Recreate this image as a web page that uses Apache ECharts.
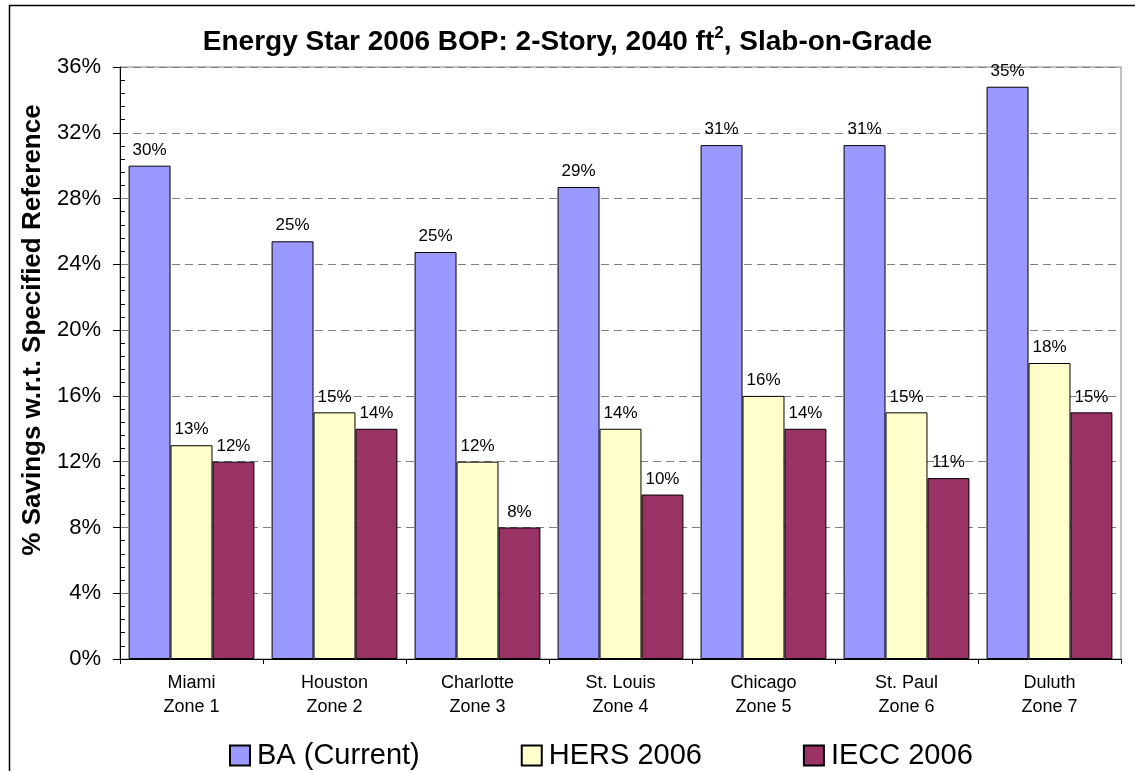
<!DOCTYPE html>
<html>
<head>
<meta charset="utf-8">
<script src="https://cdn.jsdelivr.net/npm/echarts@6/dist/echarts.min.js"></script>
<style>
  html, body { margin: 0; padding: 0; background: #fff; }
  #chart { width: 1135px; height: 771px; }
</style>
</head>
<body>
<div id="chart"></div>
<script>
// zones along the x axis
var cities = ['Miami', 'Houston', 'Charlotte', 'St. Louis', 'Chicago', 'St. Paul', 'Duluth'];
var zones = ['Zone 1', 'Zone 2', 'Zone 3', 'Zone 4', 'Zone 5', 'Zone 6', 'Zone 7'];

// % savings
var baCurrent = [30.0, 25.4, 24.75, 28.7, 31.25, 31.25, 34.8];
var hers2006 = [13, 15, 12, 14, 16, 15, 18];
var iecc2006 = [12, 14, 8, 10, 14, 11, 15];

var seriesNames = ['BA (Current)', 'HERS 2006', 'IECC 2006'];
var seriesColors = ['#9999ff', '#ffffcc', '#993366'];

var font = "'Liberation Sans', Arial, sans-serif";

var categories = cities.map(function (c, i) {
    return c + '\n' + zones[i];
});

var makeBar = function (name, data, color) {
    return {
        name: name,
        type: 'bar',
        data: data,
        barGap: '0%',
        barCategoryGap: '12%',
        itemStyle: {
            color: color,
            borderColor: '#000',
            borderWidth: 1
        },
        label: {
            show: true,
            position: 'top',
            distance: 7,
            color: '#000',
            fontFamily: font,
            fontSize: 17,
            formatter: function (p) {
                return Math.round(p.value) + '%';
            }
        }
    };
};

var option = {
    backgroundColor: '#fff',
    animation: false,
    textStyle: { fontFamily: font },
    title: {
        left: 'center',
        top: 20,
        text: '{a|Energy Star 2006 BOP: 2-Story, 2040 ft}{s|2}{a|, Slab-on-Grade}',
        textStyle: {
            rich: {
                a: { fontFamily: font, fontSize: 28, fontWeight: 'bold', color: '#000', lineHeight: 34 },
                s: { fontFamily: font, fontSize: 17, fontWeight: 'bold', color: '#000', verticalAlign: 'top', lineHeight: 17 }
            }
        }
    },
    legend: {
        left: 224,
        top: 736,
        itemWidth: 20,
        itemHeight: 20,
        itemGap: 101,
        icon: 'rect',
        data: seriesNames,
        textStyle: { fontFamily: font, fontSize: 29, color: '#000', padding: [0, 0, 0, 2] }
    },
    grid: {
        left: 120,
        right: 14,
        top: 67,
        bottom: 112,
        show: true,
        borderColor: '#808080',
        borderWidth: 1
    },
    xAxis: {
        type: 'category',
        data: categories,
        axisLine: { lineStyle: { color: '#000', width: 1 } },
        axisTick: { show: true, length: 5, lineStyle: { color: '#000' } },
        axisLabel: {
            color: '#000',
            fontFamily: font,
            fontSize: 18,
            lineHeight: 24,
            margin: 12
        }
    },
    yAxis: [{
        type: 'value',
        min: 0,
        max: 36,
        interval: 4,
        name: '% Savings w.r.t. Specified Reference',
        nameLocation: 'middle',
        nameGap: 64,
        nameTextStyle: {
            fontFamily: font,
            fontSize: 26,
            fontWeight: 'bold',
            color: '#000',
            padding: [0, 0, 0, 66]
        },
        axisLine: { show: true, lineStyle: { color: '#000', width: 1 } },
        axisTick: { show: true, length: 7, lineStyle: { color: '#000' } },
        axisLabel: {
            color: '#000',
            fontFamily: font,
            fontSize: 22,
            margin: 19,
            formatter: '{value}%'
        },
        splitLine: {
            show: true,
            lineStyle: { color: '#808080', type: [8, 5], width: 1 }
        }
    }, {
        // minor ticks, drawn inward on the same left axis
        type: 'value',
        position: 'left',
        min: 0,
        max: 36,
        interval: 4,
        axisLine: { show: false },
        axisLabel: { show: false },
        splitLine: { show: false },
        axisTick: { show: false, inside: true },
        minorTick: { show: true, splitNumber: 5, length: 5, lineStyle: { color: '#000' } }
    }],
    series: [
        makeBar(seriesNames[0], baCurrent, seriesColors[0]),
        makeBar(seriesNames[1], hers2006, seriesColors[1]),
        makeBar(seriesNames[2], iecc2006, seriesColors[2])
    ],
    graphic: [{
        type: 'rect',
        left: 7,
        top: 3,
        shape: { width: 1200, height: 900 },
        style: { fill: 'none', stroke: '#000', lineWidth: 1.5 },
        silent: true,
        z: 100
    }]
};

var myChart = echarts.init(document.getElementById('chart'));
myChart.setOption(option);
</script>
</body>
</html>
